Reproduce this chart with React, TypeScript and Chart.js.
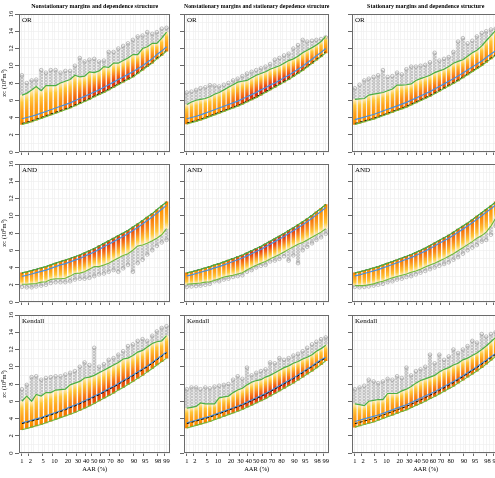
import React, { useEffect, useRef } from 'react';
import { Chart, registerables } from 'chart.js';
Chart.register(...registerables);

const SERIF = '"Liberation Serif", "DejaVu Serif", serif';

// ---- x positions (AAR %) of the simulated columns, and labelled ticks ----
const AAR_COLUMNS = [1, 1.5, 2.2, 3.1, 4.4, 6, 8.1, 10.7, 13.9, 17.6, 21.9, 26.7, 32.1, 37.8, 43.8, 50, 56.2, 62.2, 67.9, 73.3, 78.1, 82.4, 86.1, 89.3, 91.9, 94, 95.6, 96.9, 97.8, 98.5, 99];
const AAR_TICK_LABELS = [1, 2, 5, 10, 20, 30, 40, 50, 60, 70, 80, 90, 95, 98, 99];
const Y_TICK_VALUES = [0, 1, 2, 3, 4, 5, 6, 7, 8, 9, 10, 11, 12, 13, 14, 15, 16];
const COLUMN_TITLES = [
  'Nonstationary margins and dependence structure',
  'Nonstationary margins and stationary depedence structure',
  'Stationary margins and dependence structure',
];
const ROW_LABELS = ['OR', 'AND', 'Kendall'];

// ---- OR, nonstationary margins & dependence ----
const orNsBlack = [3.3, 3.45, 3.6, 3.8, 4.0, 4.2, 4.4, 4.6, 4.8, 5.0, 5.2, 5.45, 5.7, 5.95, 6.2, 6.5, 6.75, 7.0, 7.3, 7.6, 7.9, 8.2, 8.5, 8.8, 9.2, 9.6, 10.0, 10.4, 10.9, 11.3, 11.8];
const orNsBlue = [3.85, 4.0, 4.15, 4.3, 4.5, 4.7, 4.9, 5.1, 5.3, 5.5, 5.7, 5.95, 6.2, 6.45, 6.7, 6.95, 7.2, 7.5, 7.8, 8.1, 8.4, 8.7, 9.0, 9.3, 9.65, 10.0, 10.4, 10.8, 11.3, 11.7, 12.2];
const orNsLo = [3.2, 3.35, 3.5, 3.7, 3.9, 4.1, 4.3, 4.5, 4.7, 4.9, 5.1, 5.35, 5.6, 5.85, 6.1, 6.4, 6.65, 6.9, 7.2, 7.5, 7.8, 8.1, 8.4, 8.7, 9.1, 9.5, 9.9, 10.3, 10.8, 11.2, 11.7];
const orNsHi = [6.6, 6.8, 7.2, 7.6, 7.1, 7.7, 7.7, 7.7, 8.0, 8.2, 8.4, 8.9, 8.7, 8.8, 9.3, 9.2, 9.4, 9.9, 9.8, 10.3, 10.3, 10.6, 10.9, 11.3, 11.3, 12.0, 12.2, 12.6, 12.6, 13.2, 13.9];
const orNsOut = [8.9, 8.0, 8.3, 8.4, 9.5, 9.2, 9.5, 9.5, 9.2, 9.4, 9.4, 10.0, 10.9, 10.5, 10.7, 10.8, 10.5, 10.6, 11.6, 11.6, 12.0, 12.3, 12.6, 13.0, 13.4, 13.5, 13.9, 13.7, 13.9, 14.3, 14.4];

// ---- OR, nonstationary margins & stationary dependence ----
const orNmBlack = [3.35, 3.5, 3.65, 3.8, 4.0, 4.2, 4.4, 4.6, 4.8, 5.0, 5.2, 5.4, 5.65, 5.9, 6.15, 6.4, 6.7, 7.0, 7.3, 7.6, 7.9, 8.2, 8.5, 8.85, 9.2, 9.55, 9.95, 10.35, 10.75, 11.15, 11.6];
const orNmBlue = [3.85, 4.0, 4.15, 4.3, 4.5, 4.7, 4.9, 5.1, 5.3, 5.5, 5.7, 5.9, 6.15, 6.4, 6.65, 6.9, 7.2, 7.45, 7.75, 8.0, 8.3, 8.6, 8.9, 9.25, 9.6, 9.95, 10.35, 10.75, 11.15, 11.55, 12.0];
const orNmLo = [3.25, 3.4, 3.55, 3.7, 3.9, 4.1, 4.3, 4.5, 4.7, 4.9, 5.1, 5.3, 5.55, 5.8, 6.05, 6.3, 6.6, 6.9, 7.2, 7.5, 7.8, 8.1, 8.4, 8.75, 9.1, 9.45, 9.85, 10.25, 10.65, 11.05, 11.5];
const orNmHi = [5.5, 5.8, 6.0, 6.1, 6.2, 6.4, 6.7, 6.9, 7.2, 7.5, 7.8, 8.1, 8.2, 8.3, 8.6, 8.9, 9.1, 9.3, 9.6, 9.8, 10.0, 10.3, 10.6, 10.8, 11.1, 11.5, 11.8, 12.1, 12.4, 12.8, 13.4];
const orNmOut = [6.9, 7.0, 7.2, 7.4, 7.5, 7.75, 7.7, 7.6, 7.8, 8.0, 8.3, 8.5, 8.8, 9.1, 9.3, 9.5, 9.7, 9.9, 10.2, 10.7, 10.9, 11.2, 11.4, 12.0, 12.4, 13.0, 12.8, 12.9, 13.0, 13.1, 13.3];

// ---- OR, stationary margins & dependence ----
const orStBlack = [3.3, 3.45, 3.6, 3.75, 3.9, 4.1, 4.3, 4.5, 4.7, 4.9, 5.1, 5.3, 5.55, 5.8, 6.05, 6.3, 6.55, 6.85, 7.15, 7.45, 7.75, 8.05, 8.35, 8.7, 9.05, 9.4, 9.75, 10.1, 10.5, 10.9, 11.3];
const orStBlue = [3.75, 3.9, 4.05, 4.2, 4.35, 4.55, 4.75, 4.95, 5.15, 5.35, 5.55, 5.75, 6.0, 6.25, 6.5, 6.75, 7.0, 7.3, 7.6, 7.9, 8.2, 8.5, 8.8, 9.15, 9.5, 9.85, 10.2, 10.55, 10.95, 11.35, 11.75];
const orStLo = [3.2, 3.35, 3.5, 3.65, 3.8, 4.0, 4.2, 4.4, 4.6, 4.8, 5.0, 5.2, 5.45, 5.7, 5.95, 6.2, 6.45, 6.75, 7.05, 7.35, 7.65, 7.95, 8.25, 8.6, 8.95, 9.3, 9.65, 10.0, 10.4, 10.8, 11.2];
const orStHi = [6.1, 6.15, 6.2, 6.6, 6.7, 6.8, 6.9, 7.1, 7.3, 7.75, 7.75, 7.8, 7.9, 8.3, 8.5, 8.7, 8.9, 9.2, 9.4, 9.6, 9.9, 10.3, 10.5, 10.7, 11.1, 11.5, 11.8, 12.3, 12.9, 13.5, 14.1];
const orStOut = [7.4, 7.8, 8.3, 8.5, 8.7, 8.9, 9.5, 8.7, 8.8, 9.2, 9.0, 9.6, 9.9, 9.9, 10.0, 10.1, 10.4, 11.5, 10.6, 10.8, 11.0, 11.6, 12.8, 13.2, 12.6, 12.9, 13.4, 13.8, 14.0, 14.2, 14.3];

// ---- AND ----
const andNsBlack = [3.37, 3.5, 3.65, 3.8, 3.95, 4.1, 4.3, 4.5, 4.7, 4.85, 5.05, 5.25, 5.45, 5.7, 5.95, 6.2, 6.5, 6.8, 7.1, 7.4, 7.7, 8.0, 8.3, 8.7, 9.05, 9.45, 9.85, 10.25, 10.7, 11.15, 11.6];
const andNsBlue = [2.97, 3.1, 3.25, 3.4, 3.55, 3.7, 3.9, 4.1, 4.3, 4.45, 4.65, 4.85, 5.05, 5.3, 5.55, 5.8, 6.1, 6.4, 6.7, 7.0, 7.3, 7.6, 7.9, 8.3, 8.65, 9.05, 9.45, 9.85, 10.3, 10.75, 11.2];
const andNsLo = [2.05, 2.05, 2.1, 2.15, 2.3, 2.35, 2.6, 2.7, 2.7, 2.75, 3.0, 3.3, 3.35, 3.5, 3.8, 4.1, 4.1, 4.3, 4.5, 4.8, 5.1, 5.4, 5.6, 6.0, 6.5, 6.6, 6.8, 7.1, 7.4, 7.8, 8.5];
const andNsHi = [3.37, 3.5, 3.65, 3.8, 3.95, 4.1, 4.3, 4.5, 4.7, 4.85, 5.05, 5.25, 5.45, 5.7, 5.95, 6.2, 6.5, 6.8, 7.1, 7.4, 7.7, 8.0, 8.3, 8.7, 9.05, 9.45, 9.85, 10.25, 10.7, 11.15, 11.6];
const andNsOut = [1.75, 1.7, 1.7, 1.8, 1.9, 2.0, 2.2, 2.3, 2.3, 2.3, 2.4, 2.6, 2.7, 2.7, 2.8, 3.0, 3.2, 3.3, 3.5, 3.7, 3.5, 3.9, 4.3, 3.5, 4.5, 4.9, 5.5, 6.0, 6.5, 6.9, 7.2];

const andNmBlack = [3.37, 3.5, 3.65, 3.8, 3.95, 4.1, 4.3, 4.45, 4.65, 4.85, 5.05, 5.25, 5.45, 5.7, 5.95, 6.2, 6.45, 6.75, 7.05, 7.35, 7.65, 7.95, 8.3, 8.6, 8.95, 9.3, 9.65, 10.05, 10.45, 10.85, 11.3];
const andNmBlue = [3.02, 3.15, 3.3, 3.45, 3.6, 3.75, 3.95, 4.1, 4.3, 4.5, 4.7, 4.9, 5.1, 5.35, 5.6, 5.85, 6.1, 6.4, 6.7, 7.0, 7.3, 7.6, 7.95, 8.25, 8.6, 8.95, 9.3, 9.7, 10.1, 10.5, 10.95];
const andNmLo = [2.05, 2.1, 2.15, 2.2, 2.3, 2.35, 2.5, 2.7, 2.9, 3.0, 3.1, 3.25, 3.4, 3.7, 4.0, 4.25, 4.5, 4.7, 5.0, 5.25, 5.5, 5.8, 6.1, 6.4, 6.7, 6.9, 7.2, 7.5, 7.8, 8.1, 8.5];
const andNmHi = [3.37, 3.5, 3.65, 3.8, 3.95, 4.1, 4.3, 4.45, 4.65, 4.85, 5.05, 5.25, 5.45, 5.7, 5.95, 6.2, 6.45, 6.75, 7.05, 7.35, 7.65, 7.95, 8.3, 8.6, 8.95, 9.3, 9.65, 10.05, 10.45, 10.85, 11.3];
const andNmOut = [1.75, 1.8, 1.85, 1.9, 2.0, 2.1, 2.4, 2.4, 2.6, 2.7, 2.9, 3.0, 3.1, 3.5, 3.7, 4.0, 4.2, 4.3, 4.7, 4.8, 5.0, 5.3, 4.8, 5.4, 4.5, 6.0, 6.4, 6.8, 7.2, 7.5, 7.9];

const andStBlack = [3.37, 3.5, 3.65, 3.8, 3.95, 4.1, 4.3, 4.5, 4.7, 4.9, 5.1, 5.3, 5.5, 5.75, 6.0, 6.25, 6.55, 6.85, 7.15, 7.45, 7.75, 8.1, 8.45, 8.8, 9.15, 9.55, 9.95, 10.35, 10.75, 11.15, 11.6];
const andStBlue = [3.02, 3.15, 3.3, 3.45, 3.6, 3.75, 3.95, 4.15, 4.35, 4.55, 4.75, 4.95, 5.15, 5.4, 5.65, 5.9, 6.2, 6.5, 6.8, 7.1, 7.4, 7.75, 8.1, 8.45, 8.8, 9.2, 9.6, 10.0, 10.4, 10.8, 11.25];
const andStLo = [1.9, 1.9, 1.9, 2.0, 2.1, 2.3, 2.4, 2.6, 2.8, 2.95, 3.1, 3.25, 3.45, 3.6, 3.8, 4.05, 4.3, 4.5, 4.75, 5.0, 5.3, 5.6, 5.95, 6.3, 6.65, 7.0, 7.4, 7.7, 8.1, 8.8, 9.7];
const andStHi = [3.37, 3.5, 3.65, 3.8, 3.95, 4.1, 4.3, 4.5, 4.7, 4.9, 5.1, 5.3, 5.5, 5.75, 6.0, 6.25, 6.55, 6.85, 7.15, 7.45, 7.75, 8.1, 8.45, 8.8, 9.15, 9.55, 9.95, 10.35, 10.75, 11.15, 11.6];
const andStOut = [1.75, 1.7, 1.75, 1.8, 1.9, 2.0, 2.1, 2.3, 2.4, 2.6, 2.7, 2.9, 3.0, 3.2, 3.4, 3.6, 3.8, 4.0, 4.2, 4.4, 4.6, 4.9, 5.2, 5.6, 6.0, 6.3, 6.6, 7.0, 7.2, 7.8, 8.8];

// ---- Kendall ----
const kenNsBlack = [3.4, 3.55, 3.7, 3.85, 4.0, 4.2, 4.4, 4.6, 4.8, 5.0, 5.25, 5.45, 5.7, 5.95, 6.2, 6.5, 6.75, 7.05, 7.35, 7.65, 7.95, 8.3, 8.6, 8.95, 9.3, 9.65, 10.0, 10.4, 10.8, 11.2, 11.6];
const kenNsBlue = [3.5, 3.65, 3.8, 3.95, 4.1, 4.3, 4.5, 4.7, 4.9, 5.1, 5.35, 5.55, 5.8, 6.05, 6.3, 6.6, 6.85, 7.15, 7.45, 7.75, 8.05, 8.4, 8.7, 9.05, 9.4, 9.75, 10.1, 10.5, 10.9, 11.3, 11.7];
const kenNsLo = [2.7, 2.85, 3.0, 3.15, 3.3, 3.5, 3.7, 3.9, 4.1, 4.3, 4.5, 4.7, 4.95, 5.2, 5.45, 5.75, 6.05, 6.35, 6.65, 6.95, 7.3, 7.6, 7.95, 8.3, 8.65, 9.0, 9.4, 9.8, 10.2, 10.6, 11.0];
const kenNsHi = [6.0, 6.6, 6.0, 6.8, 6.6, 7.0, 7.0, 7.3, 7.35, 7.4, 7.9, 8.1, 8.3, 8.7, 8.8, 9.0, 9.3, 9.6, 9.9, 10.2, 10.5, 10.9, 11.0, 11.3, 11.7, 11.9, 12.3, 12.7, 12.9, 13.0, 13.6];
const kenNsOut = [7.4, 7.9, 8.8, 8.9, 8.5, 8.7, 8.8, 8.9, 8.9, 9.1, 9.3, 9.5, 10.0, 10.5, 10.2, 12.2, 10.0, 10.3, 10.8, 11.0, 11.4, 11.8, 12.4, 12.6, 13.0, 13.2, 13.0, 13.6, 14.1, 14.5, 14.7];

const kenNmBlack = [3.4, 3.55, 3.7, 3.85, 4.0, 4.15, 4.35, 4.55, 4.75, 4.95, 5.15, 5.35, 5.55, 5.8, 6.05, 6.3, 6.55, 6.8, 7.1, 7.4, 7.7, 8.0, 8.3, 8.6, 8.95, 9.3, 9.65, 10.0, 10.35, 10.7, 11.0];
const kenNmBlue = [3.5, 3.65, 3.8, 3.95, 4.1, 4.25, 4.45, 4.65, 4.85, 5.05, 5.25, 5.45, 5.65, 5.9, 6.15, 6.4, 6.65, 6.9, 7.2, 7.5, 7.8, 8.1, 8.4, 8.7, 9.05, 9.4, 9.75, 10.1, 10.45, 10.8, 11.1];
const kenNmLo = [2.9, 3.05, 3.2, 3.35, 3.5, 3.65, 3.85, 4.05, 4.25, 4.45, 4.65, 4.85, 5.05, 5.3, 5.55, 5.8, 6.05, 6.3, 6.6, 6.9, 7.2, 7.5, 7.8, 8.1, 8.45, 8.8, 9.15, 9.5, 9.85, 10.25, 10.7];
const kenNmHi = [5.2, 5.3, 5.4, 5.8, 5.7, 5.7, 5.7, 6.4, 6.5, 6.6, 7.0, 7.3, 7.5, 7.9, 8.2, 8.4, 8.5, 8.8, 9.0, 9.3, 9.6, 9.9, 10.1, 10.4, 10.6, 10.9, 11.1, 11.4, 11.8, 12.1, 12.5];
const kenNmOut = [7.4, 7.6, 7.6, 7.4, 7.6, 7.5, 7.7, 7.8, 7.9, 8.0, 8.5, 8.9, 8.6, 9.9, 9.0, 9.3, 9.5, 9.7, 10.5, 10.4, 11.0, 10.8, 11.0, 11.3, 11.5, 11.8, 12.2, 12.6, 12.9, 13.2, 13.4];

const kenStBlack = [3.4, 3.55, 3.7, 3.85, 4.0, 4.2, 4.4, 4.6, 4.8, 5.0, 5.2, 5.4, 5.65, 5.9, 6.15, 6.4, 6.7, 6.95, 7.25, 7.55, 7.85, 8.15, 8.5, 8.85, 9.2, 9.55, 9.9, 10.3, 10.65, 11.05, 11.45];
const kenStBlue = [3.65, 3.8, 3.95, 4.1, 4.25, 4.4, 4.6, 4.8, 5.0, 5.2, 5.4, 5.6, 5.85, 6.1, 6.35, 6.6, 6.85, 7.1, 7.4, 7.7, 8.0, 8.3, 8.6, 8.95, 9.3, 9.65, 10.0, 10.4, 10.75, 11.15, 11.55];
const kenStLo = [3.0, 3.15, 3.3, 3.45, 3.6, 3.8, 4.0, 4.2, 4.4, 4.6, 4.8, 5.0, 5.25, 5.5, 5.75, 6.0, 6.3, 6.55, 6.85, 7.15, 7.45, 7.75, 8.1, 8.45, 8.8, 9.15, 9.5, 9.9, 10.3, 10.75, 11.2];
const kenStHi = [5.7, 5.6, 5.5, 6.0, 6.1, 6.2, 6.2, 6.9, 6.9, 6.9, 7.2, 7.4, 7.7, 8.1, 8.4, 8.6, 8.8, 9.0, 9.4, 9.7, 9.9, 10.2, 10.4, 10.8, 11.0, 11.3, 11.6, 12.0, 12.4, 12.9, 13.4];
const kenStOut = [7.4, 7.6, 7.8, 8.5, 8.3, 8.1, 8.3, 8.6, 8.5, 8.9, 8.7, 9.9, 9.0, 9.5, 9.7, 10.0, 11.4, 10.4, 11.4, 10.8, 11.2, 12.0, 11.6, 12.0, 12.4, 13.0, 12.8, 13.8, 13.5, 13.8, 14.0];

type Panel = { denseTop: boolean; black: number[]; blue: number[]; lo: number[]; hi: number[]; out: number[]; red: number };

const PANELS: Panel[][] = [
  [
    { denseTop: false, black: orNsBlack, blue: orNsBlue, lo: orNsLo, hi: orNsHi, out: orNsOut, red: 0.9 },
    { denseTop: false, black: orNmBlack, blue: orNmBlue, lo: orNmLo, hi: orNmHi, out: orNmOut, red: 1.0 },
    { denseTop: false, black: orStBlack, blue: orStBlue, lo: orStLo, hi: orStHi, out: orStOut, red: 0.5 },
  ],
  [
    { denseTop: true, black: andNsBlack, blue: andNsBlue, lo: andNsLo, hi: andNsHi, out: andNsOut, red: 0.8 },
    { denseTop: true, black: andNmBlack, blue: andNmBlue, lo: andNmLo, hi: andNmHi, out: andNmOut, red: 1.0 },
    { denseTop: true, black: andStBlack, blue: andStBlue, lo: andStLo, hi: andStHi, out: andStOut, red: 0.45 },
  ],
  [
    { denseTop: false, black: kenNsBlack, blue: kenNsBlue, lo: kenNsLo, hi: kenNsHi, out: kenNsOut, red: 0.7 },
    { denseTop: false, black: kenNmBlack, blue: kenNmBlue, lo: kenNmLo, hi: kenNmHi, out: kenNmOut, red: 0.9 },
    { denseTop: false, black: kenStBlack, blue: kenStBlue, lo: kenStLo, hi: kenStHi, out: kenStOut, red: 0.5 },
  ],
];

// ---- layout (page pixels) ----
const PLOT_LEFT = [19, 184, 352];
const PLOT_W = [152, 146, 148];
const PLOT_TOP = [14, 164, 315];
const PLOT_H = 138;
const Y_AXIS_W = [19, 6, 6];
const X_AXIS_H = [6, 6, 25];
const TOP_PAD = [14, 8, 8];
const RIGHT_PAD = 4;
const X_MIN = -2.42;
const X_MAX = 2.45;

// inverse standard normal CDF (normal probability axis)
function probit(p: number): number {
  const a = [-39.69683028665376, 220.9460984245205, -275.9285104469687, 138.357751867269, -30.66479806614716, 2.506628277459239];
  const b = [-54.47609879822406, 161.5858368580409, -155.6989798598866, 66.80131188771972, -13.28068155288572];
  const c = [-0.007784894002430293, -0.3223964580411365, -2.400758277161838, -2.549732539343734, 4.374664141464968, 2.938163982698783];
  const d = [0.007784695709041462, 0.3224671290700398, 2.445134137142996, 3.754408661907416];
  const pl = 0.02425;
  if (p < pl) {
    const q = Math.sqrt(-2 * Math.log(p));
    return (((((c[0] * q + c[1]) * q + c[2]) * q + c[3]) * q + c[4]) * q + c[5]) / ((((d[0] * q + d[1]) * q + d[2]) * q + d[3]) * q + 1);
  }
  if (p > 1 - pl) {
    const q = Math.sqrt(-2 * Math.log(1 - p));
    return -(((((c[0] * q + c[1]) * q + c[2]) * q + c[3]) * q + c[4]) * q + c[5]) / ((((d[0] * q + d[1]) * q + d[2]) * q + d[3]) * q + 1);
  }
  const q = p - 0.5;
  const r = q * q;
  return (((((a[0] * r + a[1]) * r + a[2]) * r + a[3]) * r + a[4]) * r + a[5]) * q / (((((b[0] * r + b[1]) * r + b[2]) * r + b[3]) * r + b[4]) * r + 1);
}

const COL_Z = AAR_COLUMNS.map((a) => probit(a / 100));
const X_TICKS = [
  ...AAR_TICK_LABELS.map((p) => ({ z: probit(p / 100), label: String(p) })),
  ...COL_Z.map((z) => ({ z, label: '' })),
].sort((u, v) => u.z - v.z);

function hexToRgb(h: string) {
  const n = parseInt(h.slice(1), 16);
  return [(n >> 16) & 255, (n >> 8) & 255, n & 255];
}
function mix(a: string, b: string, t: number) {
  const A = hexToRgb(a), B = hexToRgb(b);
  const k = Math.max(0, Math.min(1, t));
  return `rgb(${A.map((v, i) => Math.round(v + (B[i] - v) * k)).join(',')})`;
}

// repeated open-circle texture for the stacked outlier circles
let circlePattern: CanvasPattern | null = null;
function getCirclePattern(ctx: CanvasRenderingContext2D) {
  if (circlePattern) return circlePattern;
  const c = document.createElement('canvas');
  c.width = 4;
  c.height = 3;
  const g = c.getContext('2d') as CanvasRenderingContext2D;
  g.fillStyle = 'rgba(190,190,190,0.35)';
  g.fillRect(0, 0, 4, 3);
  g.strokeStyle = 'rgba(140,140,140,0.75)';
  g.lineWidth = 0.6;
  g.beginPath();
  g.arc(2, 1.5, 1.5, 0, Math.PI * 2);
  g.stroke();
  circlePattern = ctx.createPattern(c, 'repeat');
  return circlePattern;
}

const framePlugin = {
  id: 'frameAndLabel',
  afterDraw(chart: any, _args: any, opts: any) {
    const { ctx, chartArea } = chart;
    const { left, top, right, bottom } = chartArea;
    ctx.save();
    ctx.strokeStyle = '#6b6b6b';
    ctx.lineWidth = 1;
    ctx.strokeRect(Math.round(left) + 0.5, Math.round(top) + 0.5, Math.round(right - left) - 1, Math.round(bottom - top) - 1);
    ctx.fillStyle = '#000';
    ctx.font = `7px ${SERIF}`;
    ctx.textBaseline = 'middle';
    ctx.textAlign = 'left';
    ctx.fillText(opts.text || '', left + 3, top + 6.5);
    ctx.restore();
  },
};

function PanelChart({ row, col }: { row: number; col: number }) {
  const ref = useRef<HTMLCanvasElement | null>(null);
  const w = Y_AXIS_W[col] + PLOT_W[col] + RIGHT_PAD;
  const h = TOP_PAD[row] + PLOT_H + X_AXIS_H[row];
  const left = PLOT_LEFT[col] - Y_AXIS_W[col];
  const top = PLOT_TOP[row] - TOP_PAD[row];

  useEffect(() => {
    const p = PANELS[row][col];
    const pts = (arr: number[]) => arr.map((y, i) => ({ x: COL_Z[i], y }));
    const bars = p.lo.map((l, i) => ({ x: COL_Z[i], y: [l, p.hi[i]] }));
    const strips = p.out.map((o, i) => ({ x: COL_Z[i], y: p.denseTop ? [o, p.lo[i]] : [p.hi[i], o] }));
    const tickFont = { family: SERIF, size: 6.5 };

    const barColor = (ctx: any) => {
      const chart = ctx.chart;
      if (!chart.chartArea || ctx.type !== 'data' || !ctx.raw) return '#ffa726';
      const yS = chart.scales.y;
      const pl = yS.getPixelForValue(ctx.raw.y[0]);
      const ph = yS.getPixelForValue(ctx.raw.y[1]);
      const s = p.denseTop ? ph : pl;
      const e = p.denseTop ? pl : ph;
      if (Math.abs(s - e) < 0.5) return '#ffa726';
      const g = chart.ctx.createLinearGradient(0, s, 0, e);
      const k = ctx.dataIndex;
      const r = p.red * Math.max(0, 1 - ((k - 18) / 11) ** 2);
      g.addColorStop(0, mix('#f57c00', '#e53a10', r * 0.6));
      g.addColorStop(0.15, mix('#ff9400', '#d9200f', r));
      g.addColorStop(0.45, mix('#ffa420', '#f2531a', r * 0.7));
      g.addColorStop(0.75, '#ffc83a');
      g.addColorStop(1, '#fff0c0');
      return g;
    };
    const stripColor = (ctx: any) => getCirclePattern(ctx.chart.ctx) || 'rgba(170,170,170,0.35)';

    const chart = new Chart(ref.current as HTMLCanvasElement, {
      type: 'scatter',
      data: {
        datasets: [
          { type: 'line', data: pts(p.hi), borderColor: '#4cae44', borderWidth: 1.2, pointRadius: 0, tension: 0 },
          { type: 'line', data: pts(p.lo), borderColor: '#6fb83c', borderWidth: 1.1, pointRadius: 0, tension: 0 },
          { type: 'line', data: pts(p.black), borderColor: '#111', borderWidth: 1, borderDash: [3, 2], pointRadius: 0, tension: 0 },
          { type: 'line', data: pts(p.blue), borderColor: '#4a8fdc', borderWidth: 1.2, pointRadius: 0, tension: 0 },
          {
            type: 'scatter', data: pts(p.out), pointRadius: 1.8, pointBorderWidth: 0.6,
            pointBackgroundColor: 'rgba(0,0,0,0)', pointBorderColor: '#999',
          },
          { type: 'bar', data: bars, backgroundColor: barColor, barThickness: 2.8, grouped: false, borderWidth: 0 },
          {
            type: 'bar', data: strips, backgroundColor: stripColor,
            borderWidth: 0, barThickness: 3.2, grouped: false,
          },
        ] as any,
      },
      options: {
        animation: false,
        responsive: false,
        maintainAspectRatio: false,
        layout: { padding: { top: row === 0 ? 0 : TOP_PAD[row], right: RIGHT_PAD, left: 0, bottom: 0 } },
        plugins: {
          legend: { display: false },
          tooltip: { enabled: false },
          title: {
            display: row === 0,
            fullSize: false,
            text: COLUMN_TITLES[col],
            color: '#000',
            font: { family: SERIF, size: 6, weight: 'bold' },
            padding: { top: 3, bottom: 3.8 },
          },
          frameAndLabel: { text: ROW_LABELS[row] },
        } as any,
        scales: {
          x: {
            type: 'linear',
            min: X_MIN,
            max: X_MAX,
            offset: false,
            afterBuildTicks: (s: any) => { s.ticks = X_TICKS.map((t) => ({ value: t.z })); },
            afterFit: (s: any) => { s.height = X_AXIS_H[row]; s.paddingLeft = 0; s.paddingRight = 0; },
            ticks: {
              autoSkip: false, maxRotation: 0, minRotation: 0, padding: 1.5, color: '#000', font: tickFont,
              callback: (_v: any, i: number) => (row === 2 ? X_TICKS[i].label : ''),
            },
            grid: {
              color: '#ececec', lineWidth: 0.6, tickLength: 3, tickWidth: 0.8,
              tickColor: (c: any) => (X_TICKS[c.index] && X_TICKS[c.index].label ? '#444' : 'rgba(0,0,0,0)'),
            },
            border: { display: false },
            title: { display: row === 2, text: 'AAR (%)', color: '#000', font: tickFont, padding: { top: 0, bottom: 5 } },
          },
          y: {
            type: 'linear',
            min: 0,
            max: 16,
            afterBuildTicks: (s: any) => { s.ticks = Y_TICK_VALUES.map((v) => ({ value: v })); },
            afterFit: (s: any) => { s.width = Y_AXIS_W[col]; s.paddingTop = 0; s.paddingBottom = 0; },
            ticks: {
              autoSkip: false, minRotation: 90, maxRotation: 90, crossAlign: 'center', padding: 0.5,
              color: '#000', font: tickFont,
              callback: (v: any) => (col === 0 && Number(v) % 2 === 0 ? String(v) : ''),
            },
            grid: {
              color: '#ececec', lineWidth: 0.6, tickLength: 4, tickWidth: 0.8,
              tickColor: (c: any) => (c.tick && c.tick.value % 2 === 0 ? '#444' : 'rgba(0,0,0,0)'),
            },
            border: { display: false },
            title: { display: col === 0, text: 'zc (10⁸m³)', color: '#000', font: tickFont, padding: 0 },
          },
        } as any,
      },
      plugins: [framePlugin],
    } as any);
    return () => chart.destroy();
  }, [row, col]);

  return (
    <canvas
      ref={ref}
      width={w}
      height={h}
      style={{ position: 'absolute', left, top, width: w, height: h, display: 'block' }}
    />
  );
}

export default function App() {
  const cells = [];
  for (let r = 0; r < 3; r++) for (let c = 0; c < 3; c++) cells.push(<PanelChart key={`${r}-${c}`} row={r} col={c} />);
  return (
    <div style={{ position: 'fixed', left: 0, top: 0, width: 495, height: 478, overflow: 'hidden', background: '#fff' }}>
      {cells}
    </div>
  );
}
